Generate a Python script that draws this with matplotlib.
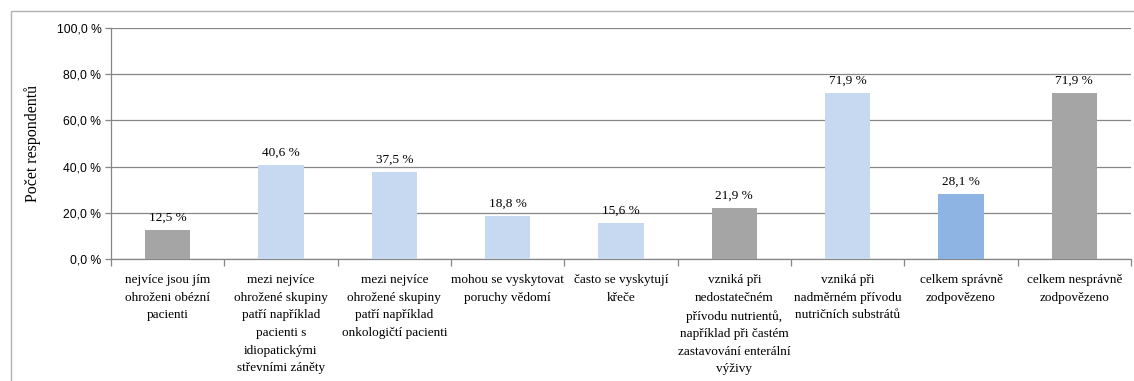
import matplotlib
matplotlib.use("Agg")
import matplotlib.pyplot as plt
from matplotlib.patches import Rectangle
from matplotlib.ticker import FixedLocator, FuncFormatter

categories = [
    "nejvíce jsou jím\nohroženi obézní\npacienti",
    "mezi nejvíce\nohrožené skupiny\npatří například\npacienti s\nidiopatickými\nstřevními záněty",
    "mezi nejvíce\nohrožené skupiny\npatří například\nonkologičtí pacienti",
    "mohou se vyskytovat\nporuchy vědomí",
    "často se vyskytují\nkřeče",
    "vzniká při\nnedostatečném\npřívodu nutrientů,\nnapříklad při častém\nzastavování enterální\nvýživy",
    "vzniká při\nnadměrném přívodu\nnutričních substrátů",
    "celkem správně\nzodpovězeno",
    "celkem nesprávně\nzodpovězeno",
]
values = [12.5, 40.6, 37.5, 18.8, 15.6, 21.9, 71.9, 28.1, 71.9]
colors = ["#A5A5A5", "#C6D9F1", "#C6D9F1", "#C6D9F1", "#C6D9F1",
          "#A5A5A5", "#C6D9F1", "#8DB4E2", "#A5A5A5"]
yticks = [0, 20, 40, 60, 80, 100]

serif = ["Liberation Serif", "DejaVu Serif"]
sans = ["Liberation Sans Narrow", "Liberation Sans", "DejaVu Sans"]
plt.rcParams["font.family"] = serif

W, H = 1134, 381
fig = plt.figure(figsize=(W / 100, H / 100), dpi=100)

# outer frame around the chart area
fig.patches.append(Rectangle((11 / W, -0.1), 1.2, (H - 11) / H + 0.1,
                             transform=fig.transFigure, fill=False,
                             edgecolor="#B0B0B0", linewidth=1.0))

ax = fig.add_axes([111 / W, 122 / H, 1020 / W, 231 / H])
x = list(range(len(values)))
ax.bar(x, values, width=0.4, color=colors, zorder=3)

for xi, v in zip(x, values):
    ax.annotate(f"{v:.1f} %".replace(".", ","), (xi, v), xytext=(0, 4.5),
                textcoords="offset points", ha="center", va="bottom",
                fontsize=9.5, family=serif, color="#000000")

ax.set_xlim(-0.5, len(values) - 0.5)
ax.set_ylim(0, 100)
ax.set_yticks(yticks)
ax.yaxis.set_major_formatter(FuncFormatter(lambda v, p: f"{v:.1f} %".replace(".", ",")))
ax.grid(axis="y", color="#868686", linewidth=0.9, zorder=0)

ax.set_xticks(x)
ax.set_xticklabels(categories, linespacing=1.62)
ax.tick_params(axis="x", which="major", length=0, pad=11)
ax.xaxis.set_minor_locator(FixedLocator([i - 0.5 for i in range(len(values) + 1)]))
ax.tick_params(axis="x", which="minor", length=5, color="#868686", width=0.9)
ax.tick_params(axis="y", length=4, color="#868686", width=0.9, pad=3)
for lbl in ax.get_xticklabels():
    lbl.set_family(serif)
    lbl.set_fontsize(9.5)
for lbl in ax.get_yticklabels():
    lbl.set_family(sans)
    lbl.set_fontsize(8.7)

for s in ["top", "right"]:
    ax.spines[s].set_visible(False)
for s in ["left", "bottom"]:
    ax.spines[s].set_color("#868686")
    ax.spines[s].set_linewidth(0.9)

fig.text(33 / W, 1 - 143 / H, "Počet respondentů", rotation=90, ha="center",
         va="center", family=serif, fontsize=11.5)

fig.savefig("out.png", dpi=100)
